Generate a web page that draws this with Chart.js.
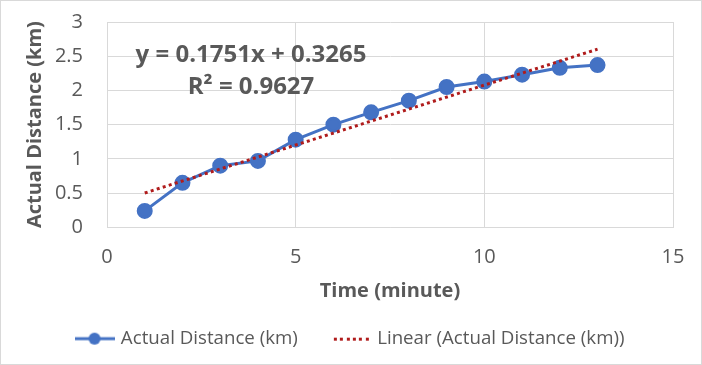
<!DOCTYPE html>
<html>
<head>
<meta charset="utf-8">
<script src="https://cdn.jsdelivr.net/npm/chart.js@4"></script>
<style>
    html, body { margin: 0; padding: 0; background: #fff; }
    #wrap { width: 700px; height: 363px; border: 1px solid #d9d9d9; }
</style>
</head>
<body>
<div id="wrap"><canvas id="grafico" width="700" height="363"></canvas></div>
<script>
const minutes = [1, 2, 3, 4, 5, 6, 7, 8, 9, 10, 11, 12, 13];
const distanceKm = [0.24, 0.65, 0.90, 0.97, 1.28, 1.50, 1.68, 1.85, 2.05, 2.13, 2.23, 2.33, 2.37];

// trendline as printed on the chart
const trendSlope = 0.1751;
const trendIntercept = 0.3265;
const trendX = [1, 13];
const equationLines = ['y = 0.1751x + 0.3265', 'R² = 0.9627'];

const xTicks = [0, 5, 10, 15];
const yTicks = [0, 0.5, 1, 1.5, 2, 2.5, 3];

const FONT = '"Open Sans", sans-serif';
const CINZA = '#595959';
const AZUL = '#4472C4';
const VERMELHO = '#B01C1C';

function iconeLegenda(tipo) {
    const c = document.createElement('canvas');
    c.width = 40;
    c.height = 14;
    const ctx = c.getContext('2d');
    if (tipo === 'linha') {
        ctx.strokeStyle = AZUL;
        ctx.lineWidth = 3;
        ctx.beginPath();
        ctx.moveTo(0, 7);
        ctx.lineTo(40, 7);
        ctx.stroke();
        ctx.fillStyle = AZUL;
        ctx.beginPath();
        ctx.arc(20, 7, 6, 0, Math.PI * 2);
        ctx.fill();
    } else {
        ctx.fillStyle = VERMELHO;
        for (let x = 3; x < 40; x += 6.3) {
            ctx.fillRect(Math.round(x), 6, 3, 3);
        }
    }
    return c;
}

const equacaoPlugin = {
    id: 'equacao',
    afterDatasetsDraw(chart) {
        const ctx = chart.ctx;
        ctx.save();
        ctx.font = 'bold 24px ' + FONT;
        ctx.fillStyle = CINZA;
        ctx.textAlign = 'center';
        ctx.textBaseline = 'middle';
        ctx.fillText(equationLines[0], 250, 54);
        ctx.fillText(equationLines[1], 250, 86);
        ctx.restore();
    },
};

new Chart(document.getElementById('grafico'), {
    type: 'scatter',
    data: {
        datasets: [
            {
                label: 'Actual Distance (km)',
                data: minutes.map((m, i) => ({ x: m, y: distanceKm[i] })),
                showLine: true,
                borderColor: AZUL,
                backgroundColor: AZUL,
                borderWidth: 3,
                pointRadius: 6.5,
                pointHoverRadius: 6.5,
                order: 1,
            },
            {
                label: 'Linear (Actual Distance (km))',
                data: trendX.map((x) => ({ x, y: trendIntercept + trendSlope * x })),
                showLine: true,
                borderColor: VERMELHO,
                borderWidth: 3,
                borderDash: [3, 3.3],
                pointRadius: 0,
                order: 0,
            },
        ],
    },
    options: {
        responsive: false,
        animation: false,
        layout: { padding: { left: 0, right: 0, top: 21, bottom: 6 } },
        scales: {
            x: {
                type: 'linear',
                min: 0,
                max: 15,
                afterBuildTicks: (s) => { s.ticks = xTicks.map((v) => ({ value: v })); },
                afterFit: (s) => {
                    s.height = 66;
                    s.paddingRight = 28;
                },
                grid: { color: '#d9d9d9', drawTicks: false },
                border: { color: '#d9d9d9' },
                ticks: { color: CINZA, font: { family: FONT, size: 20 }, padding: 18 },
                title: {
                    display: true,
                    text: 'Time (minute)',
                    color: CINZA,
                    font: { family: FONT, size: 20, weight: 'bold' },
                    padding: { top: 0, bottom: -10 },
                },
            },
            y: {
                min: 0,
                max: 3,
                afterBuildTicks: (s) => { s.ticks = yTicks.map((v) => ({ value: v })); },
                afterFit: (s) => {
                    s.width = 106;
                    s.paddingTop = 12;
                    s.paddingBottom = 12;
                },
                grid: { color: '#d9d9d9', drawTicks: false },
                border: { color: '#d9d9d9' },
                ticks: {
                    color: CINZA,
                    font: { family: FONT, size: 20 },
                    padding: 24,
                    callback: (v) => String(v),
                },
                title: {
                    display: true,
                    text: 'Actual Distance (km)',
                    color: CINZA,
                    font: { family: FONT, size: 20, weight: 'bold' },
                    padding: { top: 22, bottom: 0 },
                },
            },
        },
        plugins: {
            tooltip: { enabled: false },
            legend: {
                position: 'bottom',
                labels: {
                    usePointStyle: true,
                    pointStyleWidth: 34,
                    color: CINZA,
                    font: { family: FONT, size: 18.7 },
                    padding: 36,
                    generateLabels: (chart) => chart.data.datasets.map((ds, i) => ({
                        text: ds.label,
                        pointStyle: iconeLegenda(i === 0 ? 'linha' : 'pontos'),
                        fontColor: CINZA,
                        lineWidth: 0,
                        datasetIndex: i,
                    })),
                },
            },
        },
    },
    plugins: [equacaoPlugin],
});
</script>
</body>
</html>
